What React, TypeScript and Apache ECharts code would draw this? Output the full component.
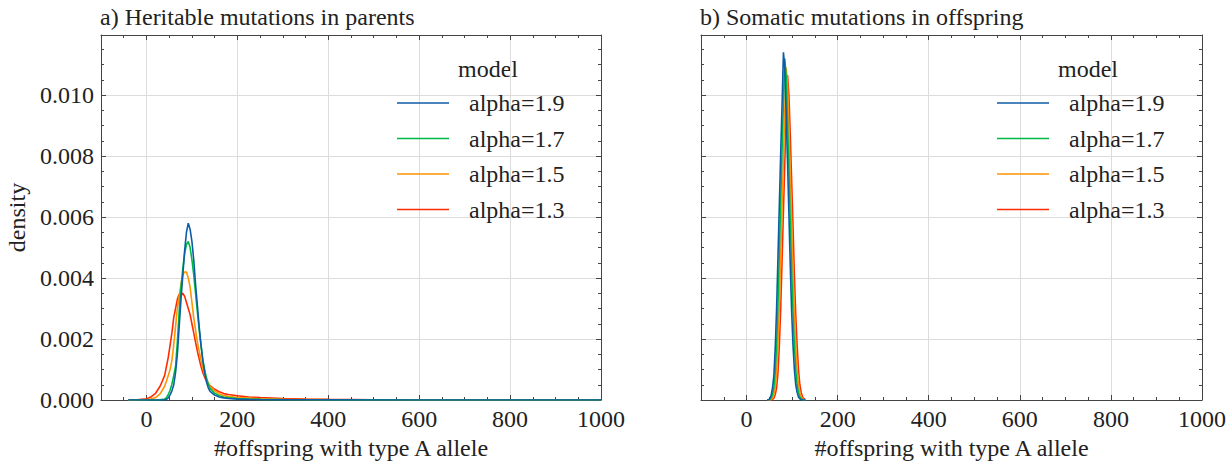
import React, { useEffect, useRef } from "react";
import * as echarts from "echarts";

const MODELS = ["alpha=1.9", "alpha=1.7", "alpha=1.5", "alpha=1.3"];
const COLORS = ["#0C5DA5", "#00B945", "#FF9500", "#FF2C00"];
const X_TICKS = [0, 200, 400, 600, 800, 1000];
const PANEL_TITLES = ["a) Heritable mutations in parents", "b) Somatic mutations in offspring"];
const X_NAME = "#offspring with type A allele";
const Y_NAME = "density";
const LEGEND_TITLE = "model";

// Panel a) heritable mutations in parents
const HERITABLE_X = [-40, -20, 0, 10, 20, 30, 40, 44, 48, 52, 56, 60, 64, 68, 72, 76, 80, 84, 88, 92, 96, 100, 104, 108, 112, 116, 120, 124, 128, 132, 136, 140, 150, 160, 170, 180, 200, 225, 250, 300, 350, 400, 500, 600, 800, 1000];
const HERITABLE_19 = [0, 0, 0, 0, 0, 0, 0.000005, 0.00002, 0.00007, 0.00017, 0.0003, 0.0005, 0.0009, 0.0015, 0.0024, 0.0033, 0.0041, 0.0049, 0.0055, 0.0058, 0.0056, 0.0052, 0.0046, 0.0038, 0.0031, 0.0024, 0.0018, 0.0013, 0.0009, 0.0006, 0.0004, 0.00028, 0.00016, 0.0001, 0.00007, 0.00005, 0.00003, 0.00002, 0.000015, 0.00001, 0.000007, 0.000005, 0.000002, 0, 0, 0];
const HERITABLE_17 = [0, 0, 0, 0, 0, 0.000005, 0.00003, 0.00008, 0.00018, 0.00032, 0.00052, 0.0008, 0.0011, 0.0019, 0.0029, 0.0037, 0.0043, 0.0048, 0.0051, 0.0052, 0.005, 0.0046, 0.0041, 0.0035, 0.0029, 0.0023, 0.0018, 0.0013, 0.001, 0.00072, 0.00052, 0.00038, 0.00022, 0.00014, 0.0001, 0.00008, 0.00005, 0.00003, 0.00002, 0.000012, 0.000008, 0.000005, 0.000003, 0.000001, 0, 0];
const HERITABLE_15 = [0, 0, 0.00001, 0.00003, 0.00008, 0.0002, 0.00045, 0.00062, 0.0008, 0.001, 0.0013, 0.0018, 0.0024, 0.003, 0.0034, 0.0038, 0.0041, 0.0042, 0.0042, 0.004, 0.0037, 0.0032, 0.0027, 0.0023, 0.0019, 0.0016, 0.0013, 0.00105, 0.00085, 0.0007, 0.00056, 0.00045, 0.0003, 0.0002, 0.00015, 0.00012, 0.00008, 0.00006, 0.00004, 0.000025, 0.000017, 0.000012, 0.000006, 0.000003, 0.000001, 0];
const HERITABLE_13 = [0, 0.000005, 0.00004, 0.0001, 0.00022, 0.00045, 0.0008, 0.0011, 0.0014, 0.0018, 0.0022, 0.0027, 0.003, 0.0033, 0.00347, 0.00342, 0.0035, 0.0034, 0.0032, 0.003, 0.0028, 0.0025, 0.0022, 0.0019, 0.0016, 0.00135, 0.0011, 0.0009, 0.00075, 0.00063, 0.00054, 0.00047, 0.00035, 0.00027, 0.00021, 0.00018, 0.00014, 0.0001, 0.00008, 0.00005, 0.00003, 0.00002, 0.00001, 0.000005, 0.000002, 0];

// Panel b) somatic mutations in offspring
const SOMATIC_X = [45, 48, 51, 54, 57, 60, 63, 66, 69, 72, 75, 78, 81, 84, 87, 90, 93, 96, 99, 102, 105, 108, 111, 114, 117, 120, 123, 126, 129];
const SOMATIC_19 = [0, 0, 0.00005, 0.00015, 0.0004, 0.0008, 0.0017, 0.003, 0.0047, 0.0064, 0.0081, 0.0097, 0.0114, 0.0109, 0.0093, 0.0078, 0.0061, 0.0044, 0.0029, 0.0018, 0.001, 0.0005, 0.00025, 0.0001, 0.00004, 0.00001, 0, 0, 0];
const SOMATIC_17 = [0, 0, 0.00002, 0.00006, 0.00018, 0.0004, 0.0009, 0.0018, 0.0031, 0.0048, 0.0065, 0.0082, 0.0098, 0.0112, 0.0106, 0.0091, 0.0076, 0.0059, 0.0043, 0.0029, 0.0018, 0.001, 0.0005, 0.00025, 0.0001, 0.00004, 0.00001, 0, 0];
const SOMATIC_15 = [0, 0, 0, 0.00002, 0.00006, 0.00018, 0.0004, 0.0009, 0.0018, 0.0031, 0.0047, 0.0063, 0.0079, 0.0095, 0.0109, 0.0103, 0.0089, 0.0074, 0.0058, 0.0042, 0.0029, 0.0018, 0.001, 0.0005, 0.00025, 0.0001, 0.00004, 0.00001, 0];
const SOMATIC_13 = [0, 0, 0, 0, 0.00002, 0.00006, 0.00018, 0.0004, 0.0009, 0.0018, 0.003, 0.0046, 0.0062, 0.0078, 0.0093, 0.01066, 0.01, 0.0087, 0.0072, 0.0057, 0.0041, 0.0028, 0.0018, 0.001, 0.0005, 0.00025, 0.0001, 0.00004, 0.00001];

const HERITABLE = [HERITABLE_19, HERITABLE_17, HERITABLE_15, HERITABLE_13];
const SOMATIC = [SOMATIC_19, SOMATIC_17, SOMATIC_15, SOMATIC_13];

const FONT = "Liberation Serif";
const TEXT = "#222";
const AXIS = "#444";
const GRID = "#dcdcdc";
const FS = 24;
const Y_MAX = 0.01197;

function xAxes(gridIndex: number, withName: boolean) {
  const base = { gridIndex, type: "value", min: -100, max: 1000 };
  return [
    {
      ...base,
      position: "bottom",
      interval: 50,
      axisLine: { show: true, onZero: false, lineStyle: { color: AXIS, width: 1 } },
      axisTick: { show: true, inside: true, length: 3, lineStyle: { color: AXIS } },
      axisLabel: { show: false },
      splitLine: { show: false },
    },
    {
      ...base,
      position: "bottom",
      axisLine: { show: false, onZero: false },
      axisTick: { show: true, inside: true, length: 5, customValues: X_TICKS, lineStyle: { color: AXIS } },
      axisLabel: {
        show: true,
        customValues: X_TICKS,
        margin: 7,
        fontSize: FS,
        fontFamily: FONT,
        color: TEXT,
        formatter: (v: number) => String(v),
      },
      splitLine: { show: true, lineStyle: { color: GRID, width: 1 } },
      name: withName ? X_NAME : "",
      nameLocation: "middle",
      nameGap: 35,
      nameTextStyle: { fontSize: FS, fontFamily: FONT, color: TEXT },
    },
    {
      ...base,
      position: "top",
      interval: 50,
      axisLine: { show: true, onZero: false, lineStyle: { color: AXIS, width: 1 } },
      axisTick: { show: true, inside: true, length: 3, lineStyle: { color: AXIS } },
      axisLabel: { show: false },
      splitLine: { show: false },
    },
    {
      ...base,
      position: "top",
      axisLine: { show: false, onZero: false },
      axisTick: { show: true, inside: true, length: 5, customValues: X_TICKS, lineStyle: { color: AXIS } },
      axisLabel: { show: false },
      splitLine: { show: false },
    },
  ];
}

function isMajorY(v: number) {
  const r = v / 0.002;
  return Math.abs(r - Math.round(r)) < 1e-6;
}

function yAxes(gridIndex: number, showLabels: boolean) {
  const base = {
    gridIndex,
    type: "value",
    min: 0,
    max: Y_MAX,
    interval: 0.002,
    axisLine: { show: true, onZero: false, lineStyle: { color: AXIS, width: 1 } },
    axisTick: { show: true, inside: true, length: 5, lineStyle: { color: AXIS } },
    minorTick: { show: true, splitNumber: 4, length: 3, lineStyle: { color: AXIS } },
  };
  return [
    {
      ...base,
      position: "left",
      axisLabel: {
        show: showLabels,
        margin: 7,
        fontSize: FS,
        fontFamily: FONT,
        color: TEXT,
        formatter: (v: number) => (isMajorY(v) ? v.toFixed(3) : ""),
      },
      splitLine: { show: true, lineStyle: { color: GRID, width: 1 } },
      name: showLabels ? Y_NAME : "",
      nameLocation: "middle",
      nameGap: 72,
      nameTextStyle: { fontSize: FS, fontFamily: FONT, color: TEXT },
    },
    {
      ...base,
      position: "right",
      axisLabel: { show: false },
      splitLine: { show: false },
    },
  ];
}

function seriesFor(xs: number[], ys: number[][], xAxisIndex: number, yAxisIndex: number) {
  // draw in reverse order so the first model ends up on top
  const out: any[] = [];
  for (let i = MODELS.length - 1; i >= 0; i--) {
    out.push({
      type: "line",
      name: MODELS[i],
      xAxisIndex,
      yAxisIndex,
      data: xs.map((x, k) => [x, ys[i][k]]),
      showSymbol: false,
      symbol: "none",
      smooth: false,
      clip: true,
      color: COLORS[i],
      itemStyle: { color: COLORS[i] },
      lineStyle: { color: COLORS[i], width: 1.6 },
      z: 3,
    });
  }
  return out;
}

function legendFor(left: number) {
  return {
    data: MODELS.map((name) => ({ name, icon: "rect" })),
    orient: "vertical",
    left,
    top: 91,
    padding: 0,
    itemWidth: 52,
    itemHeight: 1.6,
    itemGap: 11.5,
    selectedMode: false,
    textStyle: { fontSize: FS, fontFamily: FONT, color: TEXT, lineHeight: 24, padding: [0, 0, 0, 15] },
  };
}

function textEl(text: string, x: number, y: number, align: string) {
  return {
    type: "text",
    x,
    y,
    style: { text, fill: TEXT, fontSize: FS, fontFamily: FONT, align, verticalAlign: "middle" },
  };
}

export default function App() {
  const ref = useRef<HTMLDivElement>(null);
  useEffect(() => {
    if (!ref.current) return;
    const chart = echarts.init(ref.current, undefined, { renderer: "svg" });
    const option: any = {
      animation: false,
      backgroundColor: "#ffffff",
      textStyle: { fontFamily: FONT },
      grid: [
        { left: 101, top: 35, width: 500, height: 365 },
        { left: 701, top: 35, width: 501, height: 365 },
      ],
      xAxis: [...xAxes(0, true), ...xAxes(1, true)],
      yAxis: [...yAxes(0, true), ...yAxes(1, false)],
      legend: [legendFor(397), legendFor(997)],
      series: [...seriesFor(HERITABLE_X, HERITABLE, 0, 0), ...seriesFor(SOMATIC_X, SOMATIC, 4, 2)],
      graphic: [
        textEl(PANEL_TITLES[0], 100, 17, "left"),
        textEl(PANEL_TITLES[1], 700, 17, "left"),
        textEl(LEGEND_TITLE, 488, 69, "center"),
        textEl(LEGEND_TITLE, 1088, 69, "center"),
      ],
    };
    chart.setOption(option);
    return () => chart.dispose();
  }, []);
  return (
    <div
      ref={ref}
      style={{ position: "fixed", left: 0, top: 0, width: 1231, height: 466, background: "#fff" }}
    />
  );
}
